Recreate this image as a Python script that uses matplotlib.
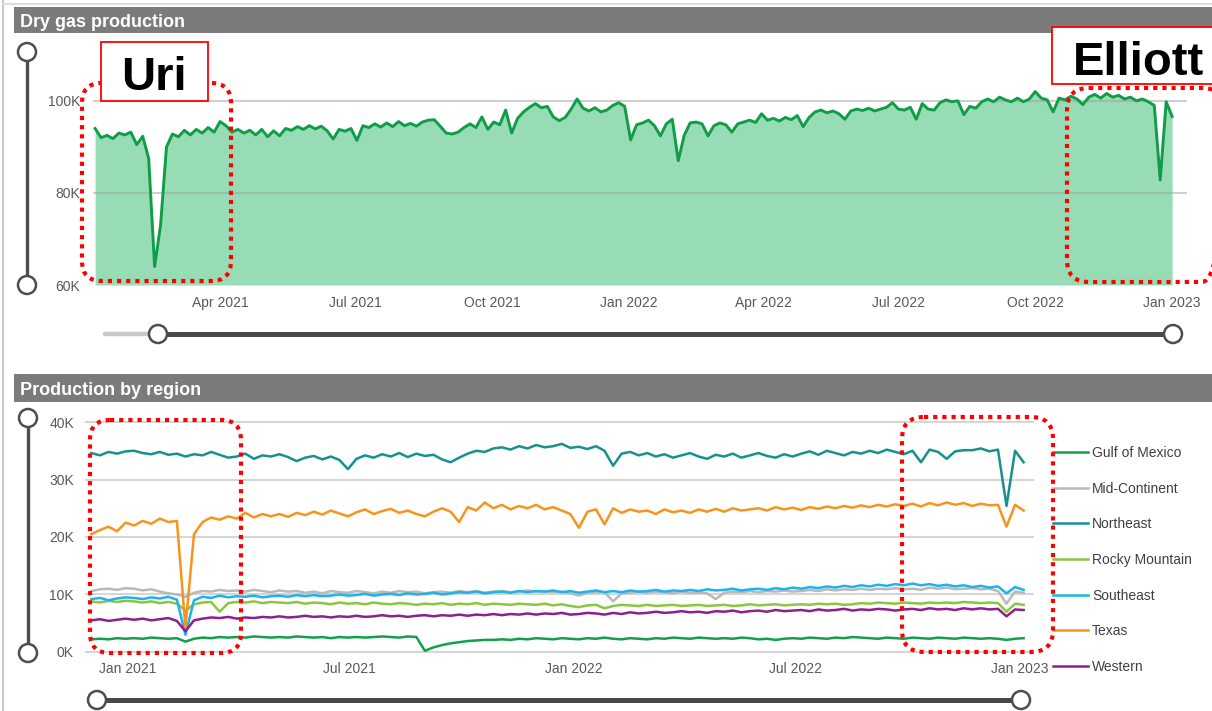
import numpy as np
import pandas as pd
import matplotlib
matplotlib.use('Agg')
import matplotlib.pyplot as plt
import matplotlib.dates as mdates
from matplotlib.patches import FancyBboxPatch, Rectangle, Circle
from matplotlib.ticker import FuncFormatter

plt.rcParams['font.family'] = ['Liberation Sans', 'DejaVu Sans']

W, H = 1212, 711  # figure size in px

# ---- dry gas production (thousand, every 4 days) ----
dry_gas_dates = pd.date_range('2021-01-07', periods=182, freq='4D')
dry_gas_k = [
    94.0, 92.0, 92.5, 91.8, 93.0, 92.6, 93.2, 90.5, 92.3, 87.5,
    64.0, 73.0, 90.0, 92.8, 92.2, 93.6, 92.6, 93.8, 93.0, 94.2,
    93.2, 95.5, 94.6, 93.2, 93.8, 93.0, 93.6, 92.6, 93.8, 92.2,
    93.5, 92.4, 94.0, 93.6, 94.4, 93.8, 94.6, 93.9, 94.5, 93.5,
    91.7, 93.8, 93.4, 94.0, 91.4, 94.6, 94.2, 95.0, 94.3, 95.2,
    94.4, 95.5, 94.6, 95.1, 94.5, 95.4, 95.8, 95.9, 94.5, 93.0,
    92.8, 93.2, 94.2, 95.0, 94.2, 96.5, 93.8, 95.4, 94.8, 98.0,
    93.0, 96.2, 97.6, 98.6, 99.4, 98.5, 98.8, 96.5, 95.7, 96.4,
    98.2, 100.4, 98.4, 97.8, 98.5, 97.6, 98.0, 99.0, 99.6, 98.8,
    91.5, 94.8, 95.2, 95.8, 94.6, 92.4, 95.0, 96.0, 87.0, 92.5,
    95.2, 95.4, 95.0, 92.4, 94.6, 95.2, 94.8, 93.2, 95.0, 95.4,
    95.8, 95.3, 97.2, 95.8, 96.2, 95.6, 96.4, 95.9, 96.8, 94.4,
    96.4, 97.6, 98.0, 97.4, 97.8, 97.2, 96.0, 97.8, 98.2, 97.9,
    98.4, 97.8, 98.2, 98.6, 99.6, 98.2, 98.0, 98.6, 96.0, 99.4,
    98.2, 98.0, 99.6, 100.2, 99.8, 100.0, 97.0, 98.8, 98.4, 99.8,
    100.4, 99.8, 100.8, 100.2, 99.8, 100.6, 99.8, 100.4, 102.0, 100.6,
    100.2, 97.6, 100.6, 100.2, 101.0, 100.4, 99.2, 100.8, 101.4, 100.6,
    101.6, 100.8, 101.2, 100.4, 100.8, 100.0, 100.4, 99.8, 99.0, 82.8,
    99.8, 96.6,
]

# ---- production by region (thousand, weekly) ----
region_dates = pd.date_range('2020-12-02', periods=110, freq='7D')
gulf_of_mexico = [
    2.2, 2.3, 2.2, 2.4, 2.3,
    2.4, 2.3, 2.5, 2.4,
    2.3, 2.4, 1.8, 2.3,
    2.5, 2.4, 2.6, 2.5, 2.6,
    2.5, 2.7, 2.6, 2.5,
    2.6, 2.5, 2.7, 2.6,
    2.5, 2.6, 2.4, 2.6, 2.5,
    2.6, 2.5, 2.6, 2.7,
    2.6, 2.5, 2.7, 2.6,
    0.2, 0.8, 1.2, 1.5, 1.7,
    1.9, 2.0, 2.1, 2.1,
    2.2, 2.1, 2.3, 2.2,
    2.4, 2.3, 2.2, 2.4, 2.3,
    2.2, 2.4, 2.3, 2.5,
    2.3, 2.2, 2.4, 2.3,
    2.2, 2.4, 2.3, 2.5, 2.4,
    2.3, 2.5, 2.4, 2.3,
    2.4, 2.3, 2.5, 2.4,
    2.2, 2.3, 2.1, 2.3, 2.4,
    2.3, 2.5, 2.4, 2.3,
    2.5, 2.4, 2.6, 2.5,
    2.4, 2.3, 2.5, 2.4, 2.3,
    2.5, 2.4, 2.3, 2.5,
    2.4, 2.3, 2.5, 2.4,
    2.3, 2.4, 2.3, 2.1, 2.3, 2.4,
]
mid_continent = [
    10.6, 10.9, 11.0, 10.8, 11.1,
    11.0, 10.7, 10.9, 10.5,
    10.2, 10.0, 9.6, 10.3,
    10.6, 10.5, 10.8, 10.6, 10.7,
    10.5, 10.8, 10.6, 10.4,
    10.7, 10.5, 10.6, 10.3,
    10.5, 10.2, 10.6, 10.4, 10.3,
    10.6, 10.4, 10.2, 10.5,
    10.3, 10.6, 10.4, 10.5,
    10.2, 10.4, 10.5, 10.3, 10.6,
    10.4, 10.6, 10.3, 10.5,
    10.6, 10.4, 10.5, 10.7,
    10.5, 10.6, 10.4, 10.5, 10.2,
    9.8, 10.3, 10.4, 10.4,
    8.8, 10.2, 10.3, 10.5,
    10.3, 10.5, 10.4, 10.2, 10.5,
    10.3, 10.4, 10.2, 9.2,
    10.3, 10.5, 10.4, 10.6,
    10.4, 10.6, 10.5, 10.7, 10.5,
    10.6, 10.8, 10.6, 10.9,
    10.7, 10.9, 10.8, 11.0,
    10.8, 11.0, 10.9, 11.1, 10.9,
    11.0, 10.8, 11.2, 11.0,
    11.2, 10.9, 11.0, 11.1,
    10.9, 11.0, 10.6, 8.4, 10.5, 10.3,
]
northeast = [
    34.6, 34.2, 34.8, 34.5, 34.9,
    35.0, 34.6, 34.4, 34.8,
    34.3, 34.5, 34.0, 34.4,
    34.2, 34.8, 34.3, 33.8, 34.0,
    34.5, 33.6, 34.2, 34.0,
    34.4, 33.9, 33.2, 33.8,
    34.1, 33.5, 34.0, 33.4, 31.8,
    33.6, 34.2, 33.8, 34.4,
    34.0, 34.6, 33.9, 34.5,
    34.1, 34.3, 33.5, 33.0, 33.8,
    34.5, 35.0, 34.8, 35.4,
    35.6, 35.2, 35.8, 35.4,
    36.0, 35.6, 35.8, 36.2, 35.5,
    35.7, 35.3, 35.8, 35.0,
    32.4, 34.5, 34.8, 34.2,
    34.6, 34.0, 34.4, 33.8, 34.2,
    34.6, 34.0, 33.6, 34.3,
    34.0, 34.5, 33.8, 34.2,
    34.6, 34.1, 33.8, 34.4, 34.0,
    34.5, 34.9, 34.3, 35.0,
    34.6, 34.2, 34.8, 34.5,
    35.0, 34.6, 35.2, 34.8, 34.4,
    35.0, 33.0, 35.2, 34.8,
    33.6, 34.9, 35.1, 35.1,
    35.4, 34.9, 35.2, 25.4, 35.0, 33.0,
]
rocky_mountain = [
    8.8, 8.6, 8.9, 8.7, 8.9,
    8.8, 8.6, 8.8, 8.5,
    8.7, 8.4, 7.2, 8.3,
    8.6, 8.7, 7.0, 8.5, 8.7,
    8.6, 8.8, 8.5, 8.7,
    8.6, 8.5, 8.7, 8.4,
    8.6, 8.5, 8.3, 8.6, 8.4,
    8.5, 8.3, 8.6, 8.4,
    8.3, 8.5, 8.4, 8.2,
    8.4, 8.3, 8.5, 8.2, 8.4,
    8.3, 8.5, 8.2, 8.4,
    8.3, 8.2, 8.4, 8.3,
    8.2, 8.4, 8.1, 8.3, 8.0,
    7.8, 8.1, 8.2, 7.6,
    8.0, 8.2, 8.1, 8.0,
    8.2, 8.0, 8.1, 8.2, 8.0,
    8.1, 8.2, 8.0, 8.1,
    8.2, 8.0, 8.1, 8.3,
    8.1, 8.2, 8.3, 8.1, 8.2,
    8.3, 8.2, 8.4, 8.3,
    8.4, 8.2, 8.3, 8.5,
    8.4, 8.6, 8.5, 8.4, 8.6,
    8.5, 8.4, 8.6, 8.5,
    8.6, 8.5, 8.7, 8.6,
    8.5, 8.6, 8.5, 7.0, 8.4, 8.2,
]
southeast = [
    9.2, 9.4, 9.0, 9.3, 9.5,
    9.4, 9.2, 9.5, 9.3,
    9.6, 9.1, 3.0, 9.0,
    9.6, 9.4, 9.8, 9.5, 9.7,
    9.6, 9.8, 9.5, 9.7,
    9.8, 9.6, 9.9, 9.7,
    9.9, 9.7, 9.8, 10.0, 9.8,
    9.9, 10.1, 9.8, 10.0,
    10.1, 9.9, 10.2, 10.0,
    10.1, 10.3, 10.0, 10.2, 10.4,
    10.3, 10.5, 10.2, 10.4,
    10.5, 10.3, 10.6, 10.4,
    10.6, 10.5, 10.7, 10.4, 10.6,
    10.3, 10.5, 10.7, 10.4,
    10.6, 10.4, 10.7, 10.5,
    10.6, 10.8, 10.5, 10.7, 10.6,
    10.8, 10.6, 10.9, 10.7,
    10.8, 11.0, 10.7, 10.9,
    11.0, 10.8, 11.1, 10.9, 11.2,
    11.0, 11.3, 11.1, 11.4,
    11.2, 11.5, 11.3, 11.6,
    11.4, 11.7, 11.5, 11.8, 11.6,
    11.9, 11.6, 11.8, 11.5,
    11.7, 11.4, 11.6, 11.3,
    11.5, 11.2, 11.4, 10.2, 11.3, 10.8,
]
texas = [
    20.5, 21.2, 21.8, 21.0, 22.5,
    22.0, 22.8, 22.3, 23.2,
    22.6, 22.8, 4.2, 20.5,
    22.6, 23.4, 23.0, 23.6, 23.2,
    24.2, 23.4, 24.0, 23.6,
    24.0, 23.5, 24.2, 23.8,
    24.4, 23.9, 24.6, 24.1, 23.6,
    24.3, 24.8, 24.0, 24.5,
    24.9, 24.2, 24.6, 24.0,
    23.6, 24.4, 25.0, 24.4, 22.6,
    25.2, 24.6, 26.0, 25.0,
    25.6, 24.8, 25.4, 25.0,
    25.6, 24.8, 25.2, 24.6, 24.0,
    21.6, 24.4, 24.8, 22.2,
    25.0, 24.2, 24.8, 24.4,
    24.6, 24.0, 24.8, 24.3, 24.6,
    24.2, 24.8, 24.4, 24.9,
    24.4, 25.0, 24.6, 24.8,
    25.0, 24.6, 25.2, 24.8, 25.1,
    24.7, 25.2, 24.9, 25.3,
    25.0, 25.4, 25.1, 25.5,
    25.2, 25.6, 25.3, 25.7, 25.4,
    25.8, 25.3, 25.9, 25.5,
    26.0, 25.6, 25.9, 25.4,
    25.8, 25.5, 25.6, 21.8, 25.6, 24.6,
]
western = [
    5.5, 5.7, 5.4, 5.6, 5.8,
    5.6, 5.8, 5.5, 5.7,
    5.9, 5.4, 3.6, 5.5,
    5.8, 6.0, 5.9, 6.1, 5.8,
    6.0, 5.9, 6.1, 6.0,
    6.2, 6.0, 6.1, 6.3,
    6.1, 6.2, 6.0, 6.2, 6.1,
    6.3, 6.1, 6.2, 6.4,
    6.2, 6.3, 6.1, 6.3,
    6.4, 6.2, 6.4, 6.3, 6.5,
    6.3, 6.5, 6.4, 6.6,
    6.4, 6.6, 6.5, 6.7,
    6.5, 6.7, 6.6, 6.8, 6.5,
    6.6, 6.8, 6.7, 6.5,
    6.8, 6.6, 6.9, 6.7,
    6.8, 7.0, 6.8, 6.9, 7.1,
    6.9, 7.0, 6.8, 7.1,
    7.0, 7.2, 6.9, 7.1,
    7.2, 7.0, 7.3, 7.1, 7.2,
    7.3, 7.1, 7.4, 7.2,
    7.3, 7.5, 7.2, 7.4,
    7.3, 7.5, 7.4, 7.2, 7.4,
    7.5, 7.3, 7.6, 7.4,
    7.5, 7.3, 7.6, 7.4,
    7.6, 7.4, 7.5, 6.2, 7.4, 7.3,
]

region_names = ['Gulf of Mexico', 'Mid-Continent', 'Northeast', 'Rocky Mountain',
                'Southeast', 'Texas', 'Western']
region_values = [gulf_of_mexico, mid_continent, northeast, rocky_mountain,
                 southeast, texas, western]
region_colors = ['#12a04a', '#b9b9b9', '#17918f', '#8cc63f', '#1cb4ea', '#f7941d', '#8e1f8e']

kfmt = FuncFormatter(lambda v, p: f'{v:.0f}K')
tick_color = '#595959'

fig = plt.figure(figsize=(W / 100, H / 100), dpi=100)


def px_axes(x0, y0, x1, y1, **kw):
    return fig.add_axes([x0 / W, 1 - y1 / H, (x1 - x0) / W, (y1 - y0) / H], **kw)


# top panel: dry gas production
ax1 = px_axes(93, 41, 1187, 285)
ax1.fill_between(dry_gas_dates, dry_gas_k, 60, color='#98dcb6', lw=0, zorder=1)
ax1.plot(dry_gas_dates, dry_gas_k, color='#0f9d47', lw=2.1, zorder=3)
ax1.set_ylim(60, 113)
ax1.set_xlim(pd.Timestamp('2021-01-05 14:00'), pd.Timestamp('2023-01-11'))
ax1.set_yticks([60, 80, 100])
ax1.yaxis.set_major_formatter(kfmt)
ax1.xaxis.set_major_locator(mdates.MonthLocator(bymonth=[1, 4, 7, 10]))
ax1.xaxis.set_major_formatter(mdates.DateFormatter('%b %Y'))
ax1.set_axisbelow(False)
ax1.grid(axis='y', color='#a0a0a0', alpha=0.5, lw=1.5)
ax1.get_ygridlines()[0].set_visible(False)
ax1.tick_params(axis='y', length=0, labelsize=10, labelcolor=tick_color, pad=9)
ax1.tick_params(axis='x', length=0, labelsize=10, labelcolor=tick_color, pad=8)
for s in ax1.spines.values():
    s.set_visible(False)

# bottom panel: production by region
ax2 = px_axes(85, 418, 1034, 656)
for name, vals, col in zip(region_names, region_values, region_colors):
    ax2.plot(region_dates, vals, color=col, lw=1.8, label=name)
ax2.set_ylim(-0.7, 40.7)
ax2.set_xlim(pd.Timestamp('2020-11-26 19:00'), pd.Timestamp('2023-01-12 12:00'))
ax2.set_yticks([0, 10, 20, 30, 40])
ax2.yaxis.set_major_formatter(kfmt)
ax2.xaxis.set_major_locator(mdates.MonthLocator(bymonth=[1, 7]))
ax2.xaxis.set_major_formatter(mdates.DateFormatter('%b %Y'))
ax2.grid(axis='y', color='#d6d6d6', lw=1.5)
ax2.set_axisbelow(True)
ax2.tick_params(axis='y', length=0, labelsize=10, labelcolor=tick_color, pad=8)
ax2.tick_params(axis='x', length=0, labelsize=10, labelcolor=tick_color, pad=4)
for s in ax2.spines.values():
    s.set_visible(False)

fig.legend(*ax2.get_legend_handles_labels(), loc='upper left',
           bbox_to_anchor=(1053 / W, 1 - 446 / H), frameon=False, fontsize=10,
           labelcolor='#404040', handlelength=2.5, handletextpad=0.3,
           labelspacing=1.56, borderpad=0, borderaxespad=0)

# overlay in pixel coordinates for the dashboard furniture
ov = fig.add_axes([0, 0, 1, 1], zorder=10)
ov.set_xlim(0, W)
ov.set_ylim(H, 0)
ov.axis('off')
ov.patch.set_alpha(0)

ov.plot([3, 3], [0, H], color='#c8c8c8', lw=1.5)
ov.plot([3, W], [4, 4], color='#d8d8d8', lw=1.2)

for y0, h, title, base in [(7, 26, 'Dry gas production', 27), (374, 28, 'Production by region', 395)]:
    ov.add_patch(Rectangle((14, y0), W - 14, h, color='#7b7b7b', lw=0))
    ov.text(20, base, title, color='white', fontsize=13, fontweight='bold', va='baseline')

slider_col = '#4d4d4d'


def knob(x, y):
    ov.add_patch(Circle((x, y), 9, fc='white', ec=slider_col, lw=1.8, zorder=5))


# vertical sliders
for x, y0, y1 in [(27, 52, 285), (28, 418, 653)]:
    ov.plot([x, x], [y0, y1], color=slider_col, lw=2.4, solid_capstyle='butt', zorder=4)
    knob(x, y0)
    knob(x, y1)

# horizontal sliders
ov.plot([105, 158], [334, 334], color='#c8c8c8', lw=3.2, solid_capstyle='round', zorder=4)
ov.plot([158, 1173], [334, 334], color='#484848', lw=3.6, solid_capstyle='butt', zorder=4)
knob(158, 334)
knob(1173, 334)
ov.plot([97, 1021], [700, 700], color='#484848', lw=3.6, solid_capstyle='butt', zorder=4)
knob(97, 700)
knob(1021, 700)


def dotted_box(x0, y0, x1, y1, r):
    ov.add_patch(FancyBboxPatch((x0, y0), x1 - x0, y1 - y0,
                                boxstyle=f'round,pad=0,rounding_size={r}',
                                fill=False, ec='#ff0000', lw=3.0,
                                linestyle=(0, (1.0, 1.2)), zorder=6))


dotted_box(82, 83, 231, 281, 20)
dotted_box(1067, 88, 1224, 282, 22)
dotted_box(90, 420, 241, 653, 20)
dotted_box(902, 417, 1053, 652, 22)

# event labels
ov.add_patch(Rectangle((101, 42), 107, 59, fc='white', ec='#ff0000', lw=1.3, zorder=7))
ov.text(154, 90, 'Uri', fontsize=34, fontweight='bold', ha='center', va='baseline', zorder=8)
ov.add_patch(Rectangle((1052, 27), 180, 57, fc='white', ec='#ff0000', lw=1.3, zorder=7))
ov.text(1138, 75, 'Elliott', fontsize=34, fontweight='bold', ha='center', va='baseline', zorder=8)

fig.savefig('out.png', dpi=100)
